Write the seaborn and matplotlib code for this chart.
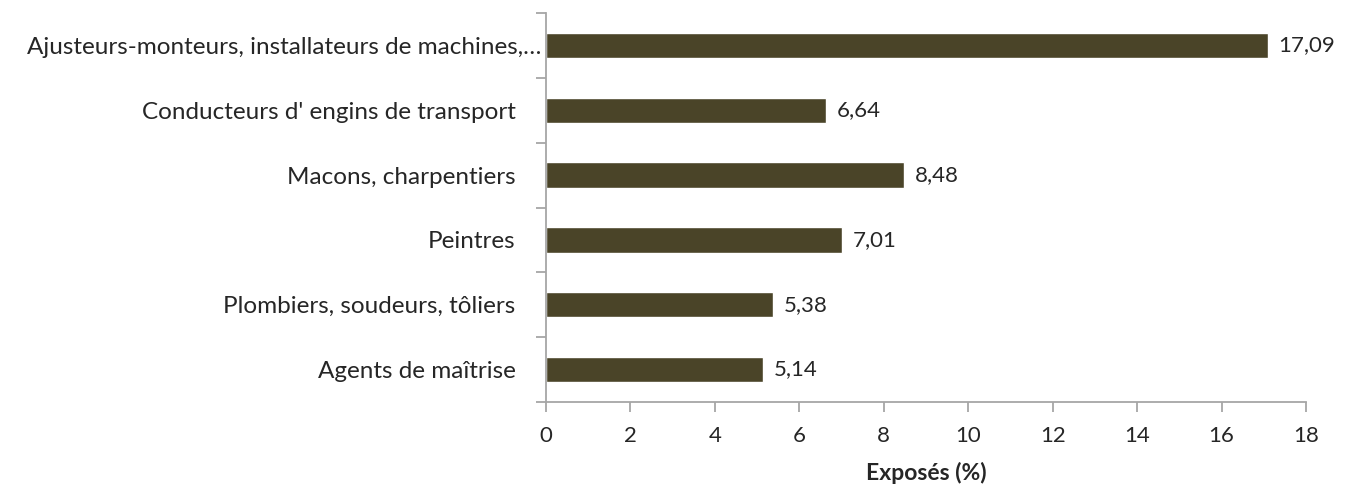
import matplotlib
matplotlib.use("Agg")
import matplotlib.pyplot as plt
import seaborn as sns
import pandas as pd
import numpy as np
from matplotlib.ticker import FixedLocator
from matplotlib.transforms import ScaledTranslation

categories = [
    "Ajusteurs-monteurs, installateurs de machines,…",
    "Conducteurs d' engins de transport",
    "Macons, charpentiers",
    "Peintres",
    "Plombiers, soudeurs, tôliers",
    "Agents de maîtrise",
]
values = [17.09, 6.64, 8.48, 7.01, 5.38, 5.14]
xticks = [0, 2, 4, 6, 8, 10, 12, 14, 16, 18]
xlabel = "Exposés (%)"

sns.set_style("white")
plt.rcParams['font.family'] = ['Lato', 'DejaVu Sans']

df = pd.DataFrame({"cat": categories, "val": values})

fig = plt.figure(figsize=(13.46, 4.91), dpi=100)
ax = fig.add_axes([546/1346, 1 - 402/491, (1306 - 546)/1346, (402 - 13)/491])

sns.barplot(data=df, x="val", y="cat", orient="h", color="#4a4428",
            saturation=1, width=0.39, ax=ax)

ax.set_xlim(0, 18)
ax.set_ylim(len(categories) - 0.5, -0.5)
ax.set_xticks(xticks)
ax.set_xticklabels([str(t) for t in xticks], fontsize=16)
ax.set_xlabel(xlabel, fontsize=16.5, fontweight="bold", labelpad=12)
ax.set_ylabel("")
ax.tick_params(left=True, bottom=True, which="both")
ax.tick_params(axis="y", which="major", length=0, pad=22, labelsize=17.5)
ax.yaxis.set_minor_locator(FixedLocator(np.arange(-0.5, len(categories), 1.0)))
ax.tick_params(axis="y", which="minor", length=7, color="#a6a6a6", width=1.3)
ax.tick_params(axis="x", which="major", length=7, color="#a6a6a6", width=1.3, pad=10)

labels = ax.get_yticklabels()
labels[0].set_transform(labels[0].get_transform() + ScaledTranslation(26/100, 0, fig.dpi_scale_trans))

for s in ["top", "right"]:
    ax.spines[s].set_visible(False)
for s in ["left", "bottom"]:
    ax.spines[s].set_color("#a6a6a6")
    ax.spines[s].set_linewidth(1.3)

for i, v in enumerate(values):
    ax.text(v + 0.25, i, f"{v:.2f}".replace(".", ","), va="center", ha="left", fontsize=16)

fig.savefig("out.png", dpi=100)
